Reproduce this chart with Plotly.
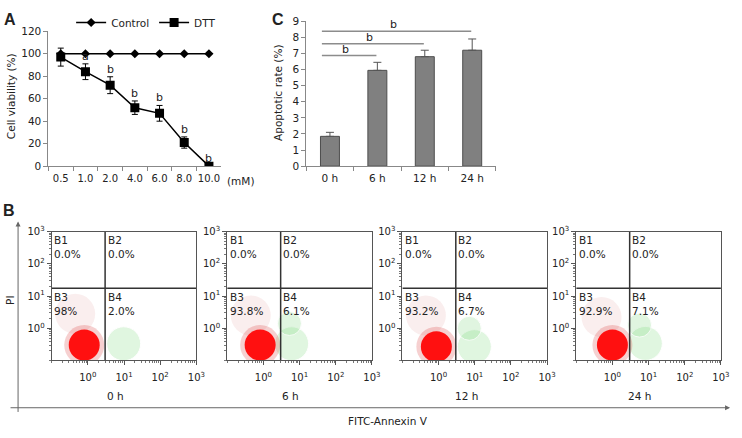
import math
import plotly.graph_objects as go

W, H = 742, 438
def px(x): return x / W
def py(y): return 1 - y / H

FONT = "DejaVu Sans"

# ---------------- Panel A data ----------------
conc = ["0.5", "1.0", "2.0", "4.0", "6.0", "8.0", "10.0"]
control = [100, 100, 100, 100, 100, 100, 100]
dtt = [97, 84, 72, 52, 47, 21, 0]
dtt_err = [8, 7, 7.5, 6, 7, 5, 0]
dtt_sig = ["", "a", "b", "b", "b", "b", "b"]

# ---------------- Panel C data ----------------
times = ["0 h", "6 h", "12 h", "24 h"]
apop = [1.85, 5.95, 6.8, 7.2]
apop_err = [0.25, 0.5, 0.4, 0.7]
sig_to = [1, 2, 3]
sig_y = [6.87, 7.6, 8.38]
sig_text = ["b", "b", "b"]

# ---------------- Panel B data ----------------
flow_labels = ["0 h", "6 h", "12 h", "24 h"]
b1_pct = ["0.0%", "0.0%", "0.0%", "0.0%"]
b2_pct = ["0.0%", "0.0%", "0.0%", "0.0%"]
b3_pct = ["98%", "93.8%", "93.2%", "92.9%"]
b4_pct = ["2.0%", "6.1%", "6.7%", "7.1%"]
gate_x = [3.0, 3.0, 3.0, 3.0]
gate_y = [17.5, 17.5, 17.5, 17.5]
# population centres (log10 units)
red_lx = [-0.10, -0.09, -0.06, 0.00]
red_ly = [-0.52, -0.52, -0.57, -0.52]
sparse_lx = [-0.35, -0.35, -0.35, -0.30]
sparse_ly = [0.45, 0.40, 0.40, 0.35]
green_lx = [[0.99], [0.78, 0.72], [0.99, 0.85], [0.91, 0.75]]
green_ly = [[-0.48], [-0.48, 0.15], [-0.57, 0.0], [-0.47, 0.1]]

fig = go.Figure()

# ---------------- Panel A ----------------
fig.add_trace(go.Scatter(x=conc, y=control, name="Control", mode="lines+markers",
                         line=dict(color="black", width=1.5),
                         marker=dict(symbol="diamond", size=7, color="black"),
                         xaxis="x", yaxis="y"))
fig.add_trace(go.Scatter(x=conc, y=dtt, name="DTT", mode="lines+markers",
                         line=dict(color="black", width=1.5),
                         marker=dict(symbol="square", size=9, color="black"),
                         error_y=dict(type="data", array=dtt_err, color="black",
                                      thickness=1, width=3),
                         xaxis="x", yaxis="y"))

annotations = []
for k, (v, e, s) in enumerate(zip(dtt, dtt_err, dtt_sig)):
    if s:
        annotations.append(dict(x=k, y=v + e, xref="x", yref="y", text=s,
                                showarrow=False, xanchor="center", yanchor="bottom", yshift=-1,
                                font=dict(family=FONT, size=11, color="#222")))

# ---------------- Panel C ----------------
fig.add_trace(go.Bar(x=times, y=apop, width=0.4, showlegend=False,
                     marker=dict(color="#808080", line=dict(color="#4d4d4d", width=1)),
                     error_y=dict(type="data", symmetric=False, array=apop_err,
                                  arrayminus=[0, 0, 0, 0], color="#555", thickness=1, width=4),
                     xaxis="x2", yaxis="y2"))

shapes = []
for j, yv, t in zip(sig_to, sig_y, sig_text):
    x0, x1 = -0.17, j - 0.02
    shapes.append(dict(type="line", xref="x2", yref="y2", x0=x0, x1=x1, y0=yv, y1=yv,
                       line=dict(color="#8c8c8c", width=1.5)))
    annotations.append(dict(x=(x0 + x1) / 2 - 0.07, y=yv, xref="x2", yref="y2", text=t,
                            showarrow=False, xanchor="center", yanchor="bottom", yshift=-2,
                            font=dict(family=FONT, size=11, color="#222")))

# ---------------- Panel B (flow cytometry) ----------------
lefts = [52.3, 230.0, 407.3, 583.3]
pw = 146.5
fy0, fy1 = py(364.3), py(231.7)
tickvals = [1, 10, 100, 1000]
ticktext = ["10<sup>0</sup>", "10<sup>1</sup>", "10<sup>2</sup>", "10<sup>3</sup>"]

for i in range(4):
    n = i + 3
    xa, ya = f"x{n}", f"y{n}"
    # sparse red events
    fig.add_trace(go.Scatter(x=[10 ** sparse_lx[i]], y=[10 ** sparse_ly[i]], mode="markers",
                             marker=dict(size=40, color="rgba(200,70,70,0.09)"),
                             showlegend=False, hoverinfo="skip", xaxis=xa, yaxis=ya))
    # green (apoptotic) events
    fig.add_trace(go.Scatter(x=[10 ** v for v in green_lx[i]], y=[10 ** v for v in green_ly[i]],
                             mode="markers",
                             marker=dict(size=[34] + [24] * (len(green_lx[i]) - 1),
                                         color="rgba(80,205,80,0.25)"),
                             showlegend=False, hoverinfo="skip", xaxis=xa, yaxis=ya))
    # red halo + core
    fig.add_trace(go.Scatter(x=[10 ** red_lx[i]], y=[10 ** red_ly[i]], mode="markers",
                             marker=dict(size=40, color="rgba(215,40,40,0.22)"),
                             showlegend=False, hoverinfo="skip", xaxis=xa, yaxis=ya))
    fig.add_trace(go.Scatter(x=[10 ** red_lx[i]], y=[10 ** red_ly[i]], mode="markers",
                             marker=dict(size=31, color="#ff1010"),
                             showlegend=False, hoverinfo="skip", xaxis=xa, yaxis=ya))
    # gates
    fig.add_trace(go.Scatter(x=[gate_x[i], gate_x[i]], y=[0.1, 1000], mode="lines",
                             line=dict(color="#333", width=1.5),
                             showlegend=False, hoverinfo="skip", xaxis=xa, yaxis=ya))
    fig.add_trace(go.Scatter(x=[0.1, 1000], y=[gate_y[i], gate_y[i]], mode="lines",
                             line=dict(color="#333", width=1.5),
                             showlegend=False, hoverinfo="skip", xaxis=xa, yaxis=ya))

    axis_common = dict(type="log", range=[-1, 3], tickvals=tickvals, ticktext=ticktext,
                       ticks="outside", ticklen=4, tickcolor="#555", showline=True,
                       mirror=True, linecolor="#555", linewidth=1, showgrid=False,
                       zeroline=False, tickfont=dict(family=FONT, size=10, color="#222"),
                       minor=dict(ticks="outside", ticklen=2, tickcolor="#777",
                                  dtick="D1", showgrid=False))
    fig.layout[f"xaxis{n}"] = dict(domain=[px(lefts[i]), px(lefts[i] + pw)], anchor=ya,
                                   tickangle=0, ticklabelstandoff=4, **axis_common)
    fig.layout[f"yaxis{n}"] = dict(domain=[fy0, fy1], anchor=xa, **axis_common)

    gxf = (math.log10(gate_x[i]) + 1) / 4
    gyf = (math.log10(gate_y[i]) + 1) / 4
    qfont = dict(family=FONT, size=10.5, color="#222")
    for (qx, qy, lab, pct) in [(0.0, 1.0, "B1", b1_pct[i]), (gxf, 1.0, "B2", b2_pct[i]),
                               (0.0, gyf, "B3", b3_pct[i]), (gxf, gyf, "B4", b4_pct[i])]:
        annotations.append(dict(x=qx + 0.004, y=qy - 0.005, xref=f"{xa} domain",
                                yref=f"{ya} domain", text=f"{lab}<br>{pct}", align="left",
                                xanchor="left", yanchor="top", showarrow=False, font=qfont))
    annotations.append(dict(x=0.44, y=py(401), xref=f"{xa} domain", yref="paper",
                            text=flow_labels[i], showarrow=False,
                            xanchor="center", yanchor="middle",
                            font=dict(family=FONT, size=10.5, color="#222")))

# ---------------- Frame arrows for panel B ----------------
annotations.append(dict(x=px(18.3), y=py(221), xref="paper", yref="paper", text="",
                        showarrow=True, ax=0, ay=192, arrowhead=2, arrowsize=1,
                        arrowwidth=1, arrowcolor="#666"))
annotations.append(dict(x=px(739), y=py(413), xref="paper", yref="paper", text="",
                        showarrow=True, ax=-721, ay=0, arrowhead=2, arrowsize=1,
                        arrowwidth=1, arrowcolor="#666"))

# ---------------- Text labels ----------------
def label(x, y, text, angle=0, size=10.5, family=FONT):
    return dict(x=px(x), y=py(y), xref="paper", yref="paper", text=text, textangle=angle,
                xanchor="center", yanchor="middle", showarrow=False,
                font=dict(family=family, size=size, color="#222"))

annotations += [
    label(11, 92, "Cell viability (%)", angle=-90),
    label(282, 89, "Apoptotic rate (%)", angle=-90),
    label(243, 179, "(mM)"),
    label(10, 302, "PI", angle=-90),
    label(393, 427, "FITC-Annexin Ⅴ"),
    label(10, 13, "<b>A</b>", size=16, family="Liberation Sans"),
    label(281, 13, "<b>C</b>", size=16, family="Liberation Sans"),
    label(9, 210, "<b>B</b>", size=16, family="Liberation Sans"),
]

tickfont = dict(family=FONT, size=10.5, color="#222")
fig.update_layout(
    width=W, height=H, margin=dict(l=0, r=0, t=0, b=0),
    paper_bgcolor="white", plot_bgcolor="white",
    font=dict(family=FONT, size=10.5, color="#222"),
    xaxis=dict(domain=[px(49), px(224)], anchor="y", type="category", range=[-0.5, 6.5],
               tickson="boundaries", ticks="outside", ticklen=4, tickcolor="#888",
               tickangle=0, ticklabelstandoff=3, showline=True, linecolor="#888",
               showgrid=False, tickfont=dict(family=FONT, size=10, color="#222")),
    yaxis=dict(domain=[py(164), py(25)], anchor="x", range=[0, 120], dtick=20,
               ticks="outside", ticklen=4, tickcolor="#888", showline=True,
               linecolor="#888", showgrid=False, zeroline=False, tickfont=tickfont),
    xaxis2=dict(domain=[px(310), px(502)], anchor="y2", type="category", range=[-0.5, 3.5],
                tickson="boundaries", ticks="outside", ticklen=4, tickcolor="#888",
                tickangle=0, ticklabelstandoff=2, showline=True, linecolor="#888",
                showgrid=False, tickfont=tickfont),
    yaxis2=dict(domain=[py(164), py(14.7)], anchor="x2", range=[0, 9], dtick=1,
                ticks="outside", ticklen=4, tickcolor="#888", showline=True,
                linecolor="#888", showgrid=False, zeroline=False, tickfont=tickfont),
    legend=dict(orientation="h", x=px(72), y=py(1), xanchor="left", yanchor="top",
                font=dict(family=FONT, size=10.5, color="#222"), bgcolor="rgba(0,0,0,0)",
                itemwidth=30, tracegroupgap=0),
    shapes=shapes,
    annotations=annotations,
)

fig.write_html("out.html", config={"displayModeBar": False},
               post_script="document.body.style.margin='0';document.body.style.padding='0';"
                           "document.body.style.overflow='hidden';")
